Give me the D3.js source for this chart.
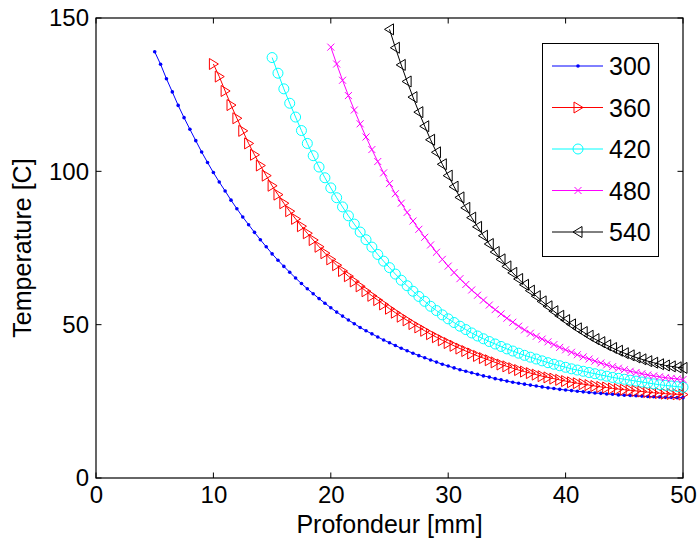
<!DOCTYPE html>
<html><head><meta charset="utf-8">
<script src="https://cdn.jsdelivr.net/npm/d3@7"></script>
<style>body{margin:0;background:#fff}svg{display:block}text{font-family:"Liberation Sans",Arial,sans-serif}</style>
</head><body><div id="chart"></div>
<script>
const seriesNames = ["300","360","420","480","540"];
const seriesStart = [5,10,15,20,25];
const xStep = 0.5;
const t300 = [139.0,134.9,130.2,125.9,121.5,117.5,113.7,110.0,106.3,102.9,
 99.6,96.5,93.6,90.6,87.8,85.1,82.6,80.1,77.7,75.4,
 73.1,71.0,69.0,67.1,65.2,63.4,61.7,60.1,58.5,57.0,
 55.5,54.1,52.8,51.5,50.3,49.1,48.0,47.0,46.0,45.0,
 44.1,43.2,42.3,41.5,40.7,39.9,39.2,38.5,37.8,37.1,
 36.5,35.9,35.3,34.8,34.3,33.8,33.3,32.9,32.4,32.0,
 31.6,31.2,30.9,30.6,30.3,30.0,29.7,29.4,29.2,28.9,
 28.7,28.5,28.3,28.1,27.9,27.7,27.6,27.4,27.3,27.1,
 27.0,26.9,26.8,26.7,26.6,26.5,26.4,26.3,26.3,26.2,26.2];
const t360 = [135.0,130.9,126.2,121.6,117.3,113.2,109.1,105.4,101.9,98.6,
 95.3,92.4,89.6,87.0,84.5,82.1,79.8,77.6,75.4,73.3,
 71.3,69.4,67.5,65.8,64.1,62.5,60.9,59.4,58.0,56.6,
 55.2,53.9,52.6,51.4,50.2,49.1,48.0,46.9,45.9,44.9,
 44.0,43.1,42.2,41.4,40.6,39.8,39.1,38.4,37.7,37.0,
 36.4,35.8,35.2,34.7,34.2,33.7,33.2,32.8,32.4,32.0,
 31.6,31.2,30.9,30.6,30.3,30.0,29.7,29.5,29.2,29.0,
 28.8,28.6,28.4,28.2,28.0,27.8,27.7,27.5,27.4,27.3,27.2];
const t420 = [137.1,132.0,126.9,122.2,117.7,113.3,109.1,105.1,101.4,97.9,
 94.6,91.4,88.4,85.5,82.8,80.2,77.7,75.3,72.9,70.7,
 68.6,66.5,64.5,62.7,60.9,59.2,57.6,56.0,54.6,53.2,
 51.9,50.7,49.5,48.4,47.3,46.3,45.4,44.5,43.7,42.9,
 42.1,41.4,40.7,40.0,39.4,38.8,38.2,37.6,37.1,36.6,
 36.1,35.6,35.2,34.8,34.4,34.0,33.6,33.2,32.8,32.5,
 32.2,31.9,31.6,31.3,31.0,30.7,30.4,30.2,30.0,29.8,29.6];
const t480 = [140.5,135.0,129.7,124.7,120.0,115.5,111.2,107.1,103.2,99.5,
 96.0,92.7,89.6,86.6,83.8,81.1,78.5,76.0,73.6,71.3,
 69.1,67.0,65.0,63.1,61.3,59.6,58.0,56.4,54.9,53.5,
 52.1,50.8,49.5,48.3,47.2,46.2,45.3,44.4,43.5,42.6,
 41.8,41.0,40.2,39.5,38.8,38.1,37.5,36.9,36.3,35.8,
 35.3,34.8,34.4,34.0,33.6,33.3,33.0,32.7,32.5,32.3,32.1];
const t540 = [146.3,140.3,134.7,129.3,124.2,119.3,114.7,110.3,106.2,102.3,
 98.6,95.0,91.5,88.1,84.9,81.9,79.0,76.3,73.7,71.3,
 69.0,66.9,64.9,63.0,61.1,59.3,57.6,56.0,54.4,52.9,
 51.5,50.1,48.8,47.6,46.4,45.3,44.3,43.3,42.4,41.5,
 40.7,40.0,39.3,38.7,38.1,37.6,37.1,36.7,36.4,36.1,35.9];
const seriesValues = [t300,t360,t420,t480,t540];
const xTicks = [0,10,20,30,40,50];
const yTicks = [0,50,100,150];
const colors = ["#0000ff","#ff0000","#00ffff","#ff00ff","#000000"];
const markers = ["dot","right","circle","x","left"];

const W=699,H=547, m={l:96,t:18,r:16,b:69};
const svg=d3.select("#chart").append("svg").attr("width",W).attr("height",H);
svg.append("rect").attr("width",W).attr("height",H).attr("fill","#fff");
const x=d3.scaleLinear().domain([0,50]).range([m.l,W-m.r]);
const y=d3.scaleLinear().domain([0,150]).range([H-m.b,m.t]);

const FS=24, FT=25, FL=25;
const g=svg.append("g");
g.append("rect").attr("x",x(0)).attr("y",y(150)).attr("width",x(50)-x(0)).attr("height",y(0)-y(150))
 .attr("fill","none").attr("stroke","#000").attr("stroke-width",1.2);
const tl=5.5;
const axB=d3.axisBottom(x).tickValues(xTicks).tickSize(0).tickPadding(8);
const gb=svg.append("g").attr("transform",`translate(0,${y(0)})`).call(axB);
gb.select(".domain").remove();
gb.selectAll("text").attr("font-size",FS).attr("fill","#000").attr("font-family","Liberation Sans, Arial, sans-serif");
const axL=d3.axisLeft(y).tickValues(yTicks).tickSize(0).tickPadding(7);
const gl=svg.append("g").attr("transform",`translate(${x(0)},0)`).call(axL);
gl.select(".domain").remove();
gl.selectAll("text").attr("font-size",FS).attr("fill","#000").attr("font-family","Liberation Sans, Arial, sans-serif");
xTicks.forEach(v=>{
  g.append("line").attr("x1",x(v)).attr("x2",x(v)).attr("y1",y(0)).attr("y2",y(0)-tl).attr("stroke","#000");
  g.append("line").attr("x1",x(v)).attr("x2",x(v)).attr("y1",y(150)).attr("y2",y(150)+tl).attr("stroke","#000");
});
yTicks.forEach(v=>{
  g.append("line").attr("x1",x(0)).attr("x2",x(0)+tl).attr("y1",y(v)).attr("y2",y(v)).attr("stroke","#000");
  g.append("line").attr("x1",x(50)).attr("x2",x(50)-tl).attr("y1",y(v)).attr("y2",y(v)).attr("stroke","#000");
});
svg.append("text").attr("x",(x(0)+x(50))/2).attr("y",533).attr("text-anchor","middle").attr("font-size",FT).text("Profondeur [mm]");
svg.append("text").attr("transform",`translate(31,${(y(0)+y(150))/2}) rotate(-90)`).attr("text-anchor","middle").attr("font-size",FT).text("Temperature [C]");

function drawMarker(sel,type,cx,cy,col){
  if(type==="dot") sel.append("circle").attr("cx",cx).attr("cy",cy).attr("r",1.8).attr("fill",col);
  else if(type==="circle") sel.append("circle").attr("cx",cx).attr("cy",cy).attr("r",5).attr("fill","none").attr("stroke",col).attr("stroke-width",1);
  else if(type==="x") sel.append("path").attr("d",`M${cx-3.5},${cy-3.5}L${cx+3.5},${cy+3.5}M${cx-3.5},${cy+3.5}L${cx+3.5},${cy-3.5}`).attr("stroke",col).attr("stroke-width",1).attr("fill","none");
  else if(type==="right") sel.append("path").attr("d",`M${cx-4},${cy-5.5}L${cx+5},${cy}L${cx-4},${cy+5.5}Z`).attr("stroke",col).attr("stroke-width",1).attr("fill","none");
  else if(type==="left") sel.append("path").attr("d",`M${cx+4},${cy-5.5}L${cx-5},${cy}L${cx+4},${cy+5.5}Z`).attr("stroke",col).attr("stroke-width",1).attr("fill","none");
}
const line=d3.line().x(d=>x(d[0])).y(d=>y(d[1]));
seriesValues.forEach((vals,i)=>{
  const pts=vals.map((v,j)=>[seriesStart[i]+j*xStep,v]);
  const sg=svg.append("g");
  sg.append("path").attr("d",line(pts)).attr("fill","none").attr("stroke",colors[i]).attr("stroke-width",1);
  pts.forEach(p=>drawMarker(sg,markers[i],x(p[0]),y(p[1]),colors[i]));
});
const lg=svg.append("g");
lg.append("rect").attr("x",542.5).attr("y",43.5).attr("width",116).attr("height",213).attr("fill","#fff").attr("stroke","#000").attr("stroke-width",1);
seriesNames.forEach((n,i)=>{
  const yy=66+i*41.5;
  lg.append("line").attr("x1",552).attr("x2",603).attr("y1",yy).attr("y2",yy).attr("stroke",colors[i]).attr("stroke-width",1);
  drawMarker(lg,markers[i],578,yy,colors[i]);
  lg.append("text").attr("x",609).attr("y",yy+9).attr("font-size",FL).text(n);
});
</script></body></html>
